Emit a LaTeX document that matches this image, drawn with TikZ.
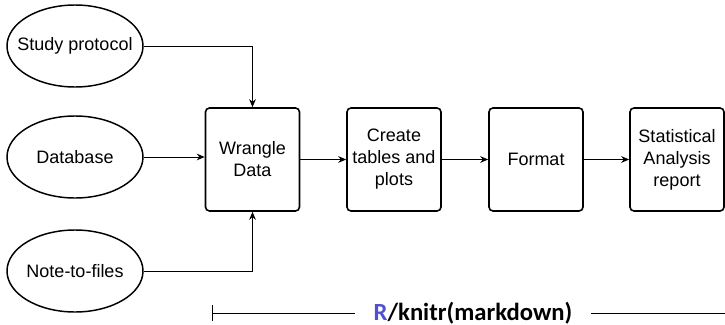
\documentclass[tikz,border=0pt]{standalone}
\usepackage{fontspec}
\setmainfont{Liberation Sans}
\newfontfamily\labelfont{Carlito}
\usetikzlibrary{arrows.meta,shapes.geometric}
\definecolor{rblue}{RGB}{80,80,210}
\begin{document}
\begin{tikzpicture}[x=0.75pt,y=-0.75pt,
  every node/.style={font=\fontsize{13.5}{16.5}\selectfont},
  source/.style={draw,ellipse,line width=1.1pt,minimum width=136*0.75pt,minimum height=82*0.75pt,inner sep=0pt},
  stepbox/.style={draw,rounded corners=3pt,line width=1.2pt,minimum width=94*0.75pt,minimum height=103*0.75pt,align=center,inner sep=1pt},
  flow/.style={line width=0.7pt,-{Stealth[length=6pt,width=5pt]}},
  rule/.style={line width=0.7pt}]
\useasboundingbox (0,0) rectangle (725,325);
% inputs: fixed-size ellipses with their captions on top
\node[source] (proto) at (75,46) {};
\node (protoText) at (proto.center) {Study protocol};
\node[source] (db) at (75,157) {};
\node (dbText) at (db.center) {Database};
\node[source] (notes) at (75,271) {};
\node (notesText) at (notes.center) {Note-to-files};
% processing steps
\node[stepbox] (wrangle) at (252.5,159.5) {Wrangle\\Data};
\node[stepbox] (tables) at (394,159.5) {Create\\tables and\\plots};
\node[stepbox] (format) at (536,159.5) {Format};
\node[stepbox] (report) at (677,159.5) {Statistical\\Analysis\\report};
% connectors
\draw[flow] (proto.east) -| (wrangle.north);
\draw[flow] (db.east) -- (db.east -| wrangle.west);
\draw[flow] (notes.east) -| (wrangle.south);
\draw[flow] (wrangle) -- (tables);
\draw[flow] (tables) -- (format);
\draw[flow] (format) -- (report);
% tool span
\node[font=\labelfont\bfseries\fontsize{18.5}{20}\selectfont,inner xsep=14pt] (tool) at (473,313) {\textcolor{rblue}{R}/knitr(markdown)};
\coordinate (spanL) at (212,313);
\coordinate (spanR) at (725,313);
\draw[rule] (spanL) -- (tool.west);
\draw[rule] (tool.east) -- (spanR);
\draw[rule] ([yshift=-8*0.75pt]spanL) -- ([yshift=8*0.75pt]spanL);
\end{tikzpicture}
\end{document}
